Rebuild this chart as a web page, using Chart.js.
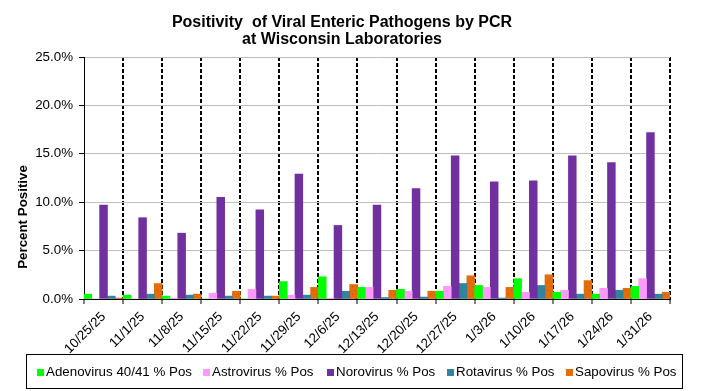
<!DOCTYPE html>
<html>
<head>
<meta charset="utf-8">
<script src="https://cdn.jsdelivr.net/npm/chart.js@4"></script>
<style>
    body { margin: 0; background: #fff; }
    #wrap { position: relative; width: 704px; height: 391px; font-family: "Liberation Sans", Arial, sans-serif; }
    #chartCanvas { position: absolute; left: 0; top: 0; }
    #title {
        position: absolute; left: 0; top: 14px; width: 684px;
        text-align: center; font-weight: bold; font-size: 16px; line-height: 16.5px;
    }
    #yTitle {
        position: absolute; left: -77px; top: 209px; width: 200px;
        text-align: center; font-weight: bold; font-size: 13.33px; line-height: 16px;
        transform: rotate(-90deg);
    }
    #legend {
        position: absolute; left: 26px; top: 354px; width: 655px; height: 33px;
        border: 1px solid #000;
    }
    .item { position: absolute; top: 9px; font-size: 13.33px; line-height: 16px; white-space: nowrap; }
    .box { display: inline-block; width: 7px; height: 7px; margin-right: 2px; vertical-align: 0px; }
</style>
</head>
<body>
<div id="wrap">
    <canvas id="chartCanvas" width="704" height="391"></canvas>
    <div id="title">Positivity&nbsp; of Viral Enteric Pathogens by PCR<br>at Wisconsin Laboratories</div>
    <div id="yTitle">Percent Positive</div>
    <div id="legend"></div>
</div>
<script>
const weeks = ["10/25/25", "11/1/25", "11/8/25", "11/15/25", "11/22/25", "11/29/25", "12/6/25",
    "12/13/25", "12/20/25", "12/27/25", "1/3/26", "1/10/26", "1/17/26", "1/24/26", "1/31/26"];

const adenoPos = [0.5, 0.4, 0.3, 0, 0, 1.8, 2.3, 1.2, 1.0, 0.8, 1.4, 2.1, 0.7, 0.5, 1.3];
const astroPos = [0, 0, 0.1, 0.6, 1.0, 0.4, 0.1, 1.2, 0.8, 1.3, 1.2, 0.7, 0.9, 1.1, 2.1];
const noroPos = [9.7, 8.4, 6.8, 10.5, 9.2, 12.9, 7.6, 9.7, 11.4, 14.8, 12.1, 12.2, 14.8, 14.1, 17.2];
const rotaPos = [0.3, 0.5, 0.4, 0.3, 0.3, 0.4, 0.8, 0.15, 0.2, 1.6, 0.1, 1.4, 0.5, 0.9, 0.5];
const sapoPos = [0.1, 1.6, 0.5, 0.8, 0.3, 1.2, 1.5, 0.9, 0.8, 2.4, 1.2, 2.5, 1.9, 1.1, 0.7];

const seriesNames = ["Adenovirus 40/41 % Pos", "Astrovirus % Pos", "Norovirus % Pos", "Rotavirus % Pos", "Sapovirus % Pos"];
const seriesColors = ["#00ff00", "#ff99ff", "#7030a0", "#31849b", "#e46c0a"];

const FONT = "'Liberation Sans', Arial, sans-serif";

// orange bars have a faint dotted fill in the original
function dotPattern(base, dot) {
    const c = document.createElement("canvas");
    c.width = 6;
    c.height = 8;
    const g = c.getContext("2d");
    g.fillStyle = base;
    g.fillRect(0, 0, 6, 8);
    g.fillStyle = dot;
    g.fillRect(1, 2, 1, 1);
    g.fillRect(4, 6, 1, 1);
    return g.createPattern(c, "repeat");
}

const fills = seriesColors.slice();
fills[4] = dotPattern(seriesColors[4], "#b85a10");

const allData = [adenoPos, astroPos, noroPos, rotaPos, sapoPos];

// html legend
const legendDiv = document.getElementById("legend");
const legendX = [10, 176, 300, 420, 539];
seriesNames.forEach((name, i) => {
    const it = document.createElement("div");
    it.className = "item";
    it.style.left = legendX[i] + "px";
    it.innerHTML = '<span class="box" style="background:' + seriesColors[i] + '"></span>' + name;
    legendDiv.appendChild(it);
});

new Chart(document.getElementById("chartCanvas"), {
    type: "bar",
    data: {
        labels: weeks,
        datasets: seriesNames.map((name, i) => ({
            label: name,
            data: allData[i],
            backgroundColor: fills[i],
            borderWidth: 0,
            categoryPercentage: 1.0,
            barPercentage: 1.0
        }))
    },
    options: {
        responsive: false,
        animation: false,
        layout: { padding: { top: 57, right: 34, left: 0, bottom: 0 } },
        plugins: {
            legend: { display: false },
            title: { display: false },
            tooltip: { enabled: false }
        },
        scales: {
            x: {
                afterFit: s => { s.height = 92; },
                grid: {
                    offset: true,
                    // first divider sits on the solid y axis, hide it there
                    color: c => c.index === 0 ? "rgba(0,0,0,0)" : "#000",
                    lineWidth: 2,
                    tickColor: "#000",
                    tickWidth: 1,
                    tickLength: 5,
                    tickBorderDash: []
                },
                border: { color: "#000", width: 1, dash: [4, 2] },
                ticks: {
                    color: "#000",
                    font: { family: FONT, size: 13.33 },
                    minRotation: 45,
                    maxRotation: 45,
                    padding: 5,
                    autoSkip: false
                }
            },
            y: {
                min: 0,
                max: 25,
                afterFit: s => { s.width = 84; },
                grid: {
                    color: "#c0c0c0",
                    lineWidth: 1,
                    tickColor: "#000",
                    tickLength: 5
                },
                border: { color: "#000", width: 1 },
                ticks: {
                    stepSize: 5,
                    color: "#000",
                    padding: 6,
                    font: { family: FONT, size: 13.33 },
                    callback: v => v.toFixed(1) + "%"
                }
            }
        }
    }
});
</script>
</body>
</html>
